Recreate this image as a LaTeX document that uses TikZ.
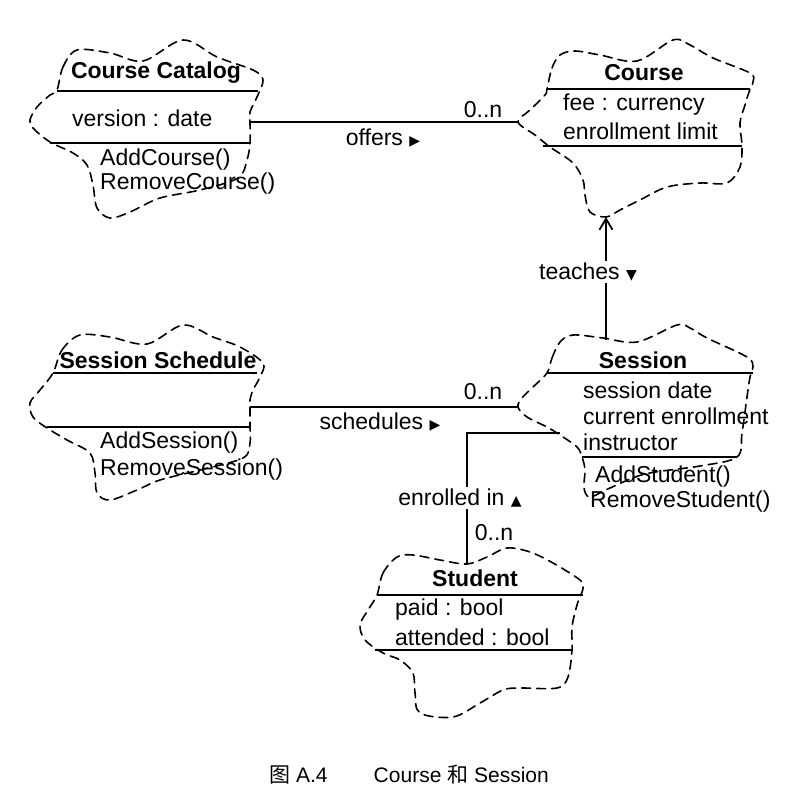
\documentclass[tikz,border=0pt]{standalone}
\usepackage{fontspec}
\setmainfont{Liberation Sans}
\newfontfamily\cjk{Noto Sans CJK SC}
\newfontfamily\symf{DejaVu Sans}
\usetikzlibrary{arrows.meta}
\newcommand{\tri}[1]{{\symf\fontsize{14}{15}\selectfont #1}}
\tikzset{
  cloudline/.style={draw, line width=1.6pt, dash pattern=on 9pt off 6pt, line cap=round},
  sepline/.style={line width=2pt},
  assoc/.style={line width=2pt},
  cname/.style={font=\fontsize{23}{27}\selectfont\bfseries, inner sep=0pt},
  attr/.style={font=\fontsize{23}{27}\selectfont, anchor=west, inner sep=0pt},
  lbl/.style={font=\fontsize{23}{27}\selectfont, inner sep=1pt},
  wlbl/.style={lbl, fill=white, inner sep=2pt},
}
\begin{document}
\begin{tikzpicture}[x=1pt, y=-1pt]
\useasboundingbox[fill=white] (0,0) rectangle (800,810);

% ---------- Course Catalog ----------
\draw[cloudline] plot[smooth cycle, tension=0.55] coordinates {
 (57,90) (63,67) (77,50) (110,53) (143,61) (183,40) (217,57) (253,70) (263,80)
 (257,97) (250,112) (250,122) (250,143) (247,160) (238,178) (200,190) (160,198)
 (130,212) (110,218) (97,208) (93,185) (87,165) (73,153) (50,142) (33,128)
 (30,120) (37,107) (50,95)};
\draw[sepline] (57,91) -- (258,91);
\draw[sepline] (50,143) -- (250,143);
\node[cname] (catName) at (156,73) {Course Catalog};
\node[attr] (catVer) at (72,118) {version : date};
\node[attr] (catAdd) at (100,160) {AddCourse()};
\node[attr] (catRem) at (100,184) {RemoveCourse()};
\coordinate (catR) at (250,122);

% ---------- Course ----------
\draw[cloudline] plot[smooth cycle, tension=0.55] coordinates {
 (547,89) (552,68) (560,55) (575,51) (600,55) (637,61) (673,40) (690,45) (713,58)
 (750,73) (753,82) (749,92) (745,105) (740,123) (742,146) (740,167) (727,183)
 (700,183) (667,187) (640,200) (620,210) (606,217) (590,212) (585,195) (583,180)
 (573,163) (550,147) (535,135) (518,122) (530,110) (545,95)};
\draw[sepline] (547,89) -- (750,89);
\draw[sepline] (543,146) -- (742,146);
\node[cname] (courseName) at (644,73) {Course};
\node[attr] (courseFee) at (563,105) {fee : currency};
\node[attr] (courseLim) at (563,131) {enrollment limit};
\coordinate (courseL) at (518,122);
\coordinate (courseB) at (606,217);

% ---------- Session Schedule ----------
\draw[cloudline] plot[smooth cycle, tension=0.55] coordinates {
 (53,373) (62,350) (80,335) (110,337) (147,344) (183,325) (213,337) (240,347)
 (263,363) (260,377) (253,390) (250,400) (250,407) (250,427) (250,443) (243,458)
 (200,470) (160,480) (137,490) (110,500) (97,493) (95,473) (90,453) (67,440)
 (47,428) (33,417) (30,403) (40,390)};
\draw[sepline] (53,373) -- (257,373);
\draw[sepline] (47,427) -- (250,427);
\node[cname] (schName) at (158,360) {Session Schedule};
\node[attr] (schAdd) at (100,443) {AddSession()};
\node[attr] (schRem) at (100,470) {RemoveSession()};
\coordinate (schR) at (250,407);

% ---------- Session ----------
\draw[cloudline] plot[smooth cycle, tension=0.55] coordinates {
 (547,373) (552,358) (560,342) (573,335) (603,338) (637,342) (677,325) (690,328)
 (707,338) (747,357) (753,367) (750,377) (747,397) (742,433) (737,457) (700,466)
 (645,474) (610,488) (590,497) (584,488) (585,470) (582,457) (577,447) (560,435)
 (547,427) (527,417) (518,407) (522,398) (533,387)};
\draw[sepline] (547,373) -- (753,373);
\draw[sepline] (582,457) -- (737,457);
\node[cname] (sessName) at (643,360) {Session};
\node[attr] (sessDate) at (583,390) {session date};
\node[attr] (sessCur) at (583,416) {current enrollment};
\node[attr] (sessIns) at (583,442) {instructor};
\node[attr] (sessAdd) at (595,477) {AddStudent()};
\node[attr] (sessRem) at (590,502) {RemoveStudent()};
\coordinate (sessL) at (518,407);
\coordinate (sessT) at (606,340);
\coordinate (sessE) at (560,433);

% ---------- Student ----------
\draw[cloudline] plot[smooth cycle, tension=0.55] coordinates {
 (377,595) (383,573) (397,557) (413,555) (440,560) (467,564) (487,557) (507,548)
 (530,552) (553,563) (580,580) (583,588) (580,597) (577,605) (572,627) (572,650)
 (568,677) (557,688) (520,688) (503,690) (480,703) (453,717) (420,713) (415,693)
 (413,673) (400,660) (383,653) (365,640) (360,625) (368,610)};
\draw[sepline] (377,595) -- (583,595);
\draw[sepline] (375,650) -- (573,650);
\node[cname] (studName) at (475,578) {Student};
\node[attr] (studPaid) at (395,610) {paid : bool};
\node[attr] (studAtt) at (395,637) {attended : bool};
\coordinate (studT) at (467,564);
\coordinate (enrBend) at (467,433);

% ---------- Associations ----------
\draw[assoc] (catR) -- (courseL);
\node[lbl] (offMul) at (483,110) {0..n};
\node[lbl] (offLbl) at (383,138) {offers \tri{▶}};

\draw[assoc] (schR) -- (sessL);
\node[lbl] (schMul) at (483,392) {0..n};
\node[lbl] (schLbl) at (380,422) {schedules \tri{▶}};

\draw[assoc, -{Straight Barb[length=11pt, width=13pt, line width=1.8pt]}] (sessT) -- (courseB);
\node[wlbl] (teachLbl) at (588,272) {teaches \tri{▼}};

\draw[assoc] (sessE) -- (enrBend) -- (studT);
\node[wlbl] (enrLbl) at (460,498) {enrolled in \tri{▲}};
\node[lbl] (enrMul) at (494,533) {0..n};

% ---------- Caption ----------
\node[font=\fontsize{21}{24}\selectfont, inner sep=0pt] (caption) at (409,775)
  {{\cjk 图} A.4\hspace{2.2em}Course {\cjk 和} Session};
\end{tikzpicture}
\end{document}
